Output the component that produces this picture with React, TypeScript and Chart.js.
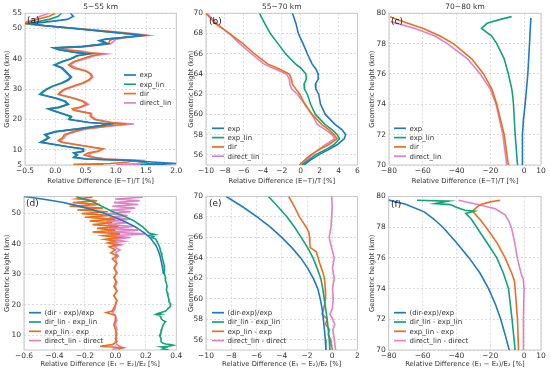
import React, { useEffect, useRef } from "react";
import { Chart, registerables } from "chart.js";

Chart.register(...registerables);

const FONT = "'DejaVu Sans', 'Liberation Sans', sans-serif";
const TEXT = "#333333";
const GRID = "#d2d2d2";
const SPINE = "#c8c8c8";

const BLUE = "#2079c3";
const GREEN = "#12a479";
const ORANGE = "#ea6f1e";
const PINK = "#e082c6";

// ---------------- (a) 5-55 km ----------------
const A_HEIGHTS = [55, 54, 53, 52, 51.6, 51, 50, 49, 48, 47.7, 47, 46.5, 46, 45, 44, 43.6, 43, 42.5, 42, 41.6, 41, 40, 39, 38, 37, 36, 35, 34, 33, 32, 31, 30, 29, 28.3, 28, 27, 26, 25, 24, 23.5, 23, 22, 21, 20, 19, 18.5, 18, 17, 16, 15, 14, 13, 12.5, 12, 11, 10.3, 9.5, 9, 8.3, 7.5, 7, 6.5, 6, 5.5, 5.2, 5];
const A_EXP = [0.25, 0.3, 0.2, -0.2, -0.42, -0.18, 0.32, 0.82, 1.32, 1.44, 1.12, 0.85, 0.75, 0.87, 0.42, -0.02, 0.07, 0.22, 0.37, 0.56, 0.37, 0.27, 0.12, 0.0, 0.12, 0.17, 0.22, 0.27, 0.22, 0.12, -0.03, -0.13, -0.2, -0.24, -0.18, 0.02, 0.17, 0.22, 0.07, -0.1, -0.03, 0.12, 0.27, 0.24, 0.57, 0.92, 0.77, 0.42, 0.02, -0.16, -0.1, -0.18, -0.23, -0.08, 0.22, 0.47, 0.47, 0.32, 0.37, 0.32, 0.52, 1.3, 1.6, 2.0, 1.7, 1.4];
const A_EXP_LIN = [0.1, 0.05, -0.1, -0.35, -0.45, -0.2, 0.3, 0.8, 1.3, 1.42, 1.1, 0.82, 0.72, 0.85, 0.4, -0.03, 0.05, 0.2, 0.35, 0.55, 0.35, 0.25, 0.1, -0.02, 0.1, 0.15, 0.2, 0.25, 0.2, 0.1, -0.05, -0.15, -0.22, -0.26, -0.2, 0.0, 0.15, 0.2, 0.05, -0.12, -0.05, 0.1, 0.25, 0.22, 0.55, 0.9, 0.75, 0.4, 0.0, -0.18, -0.12, -0.2, -0.25, -0.1, 0.2, 0.45, 0.45, 0.3, 0.35, 0.3, 0.5, 1.2, 1.45, 1.55, 1.8, 1.5];
const A_DIR = [0.0, -0.1, -0.3, -0.45, -0.5, -0.25, 0.35, 0.9, 1.38, 1.48, 1.15, 0.95, 0.9, 0.88, 0.45, 0.08, 0.15, 0.4, 0.5, 0.75, 0.6, 0.45, 0.3, 0.22, 0.3, 0.5, 0.58, 0.6, 0.55, 0.45, 0.3, 0.15, 0.08, 0.05, 0.1, 0.3, 0.45, 0.52, 0.4, 0.28, 0.3, 0.58, 0.58, 0.65, 0.9, 1.18, 0.95, 0.5, 0.3, 0.15, 0.12, 0.05, 0.1, 0.25, 0.55, 0.78, 0.7, 0.55, 0.48, 0.62, 0.8, 1.3, 1.2, 0.9, 0.3, 0.8];
const A_DIRECT_LIN = [-0.1, -0.25, -0.35, -0.5, -0.52, -0.22, 0.38, 0.95, 1.45, 1.55, 1.2, 1.0, 0.98, 0.92, 0.5, 0.12, 0.2, 0.45, 0.6, 0.85, 0.65, 0.5, 0.33, 0.25, 0.35, 0.52, 0.6, 0.62, 0.57, 0.48, 0.33, 0.18, 0.1, 0.07, 0.12, 0.32, 0.47, 0.55, 0.43, 0.32, 0.35, 0.6, 0.6, 0.68, 0.95, 1.3, 1.0, 0.55, 0.33, 0.18, 0.15, 0.08, 0.13, 0.28, 0.58, 0.8, 0.72, 0.6, 0.55, 0.65, 0.85, 1.45, 1.4, 1.5, 1.0, 1.5];

// ---------------- (b) 55-70 km ----------------
const B_HEIGHTS = [70, 69, 68, 67, 66, 65, 64.5, 64, 63.5, 63, 62.5, 62, 61, 60, 59, 58.5, 58, 57.6, 57, 56.5, 56, 55.5, 55];
const B_EXP = [-0.87, -0.5, -0.25, 0.25, 0.7, 1.2, 1.6, 1.85, 1.85, 1.55, 1.6, 1.9, 2.1, 2.6, 3.65, 4.35, 4.75, 4.6, 3.85, 2.9, 1.9, 1.05, 0.35];
const B_EXP_LIN = [-4.35, -3.8, -3.2, -2.4, -1.6, -0.55, 0.1, 0.55, 0.6, 0.35, 0.4, 0.7, 1.05, 1.55, 2.6, 3.3, 3.85, 4.1, 3.5, 2.6, 1.55, 0.85, 0.15];
const B_DIR = [-10, -9.05, -7.5, -6.1, -4.9, -3.5, -2.25, -1.2, -0.98, -0.87, -0.5, -0.1, 0.45, 1.2, 2.25, 2.95, 3.5, 3.85, 2.95, 1.9, 1.05, 0.45, -0.15];
const B_DIRECT_LIN = [-9.9, -8.9, -7.55, -6.45, -5.2, -3.9, -2.7, -1.5, -1.2, -1.15, -0.95, -0.35, 0.45, 1.2, 1.75, 2.6, 3.3, 3.6, 2.6, 1.85, 1.2, 0.6, 0];

// ---------------- (c) 70-80 km ----------------
const C_EXP_H = [70, 72, 73, 74, 76, 78, 79.7];
const C_EXP = [-0.8, -1, -0.4, 0.6, 2.2, 3.2, 4.0];
const C_EXP_LIN_H = [70, 72, 74, 74.5, 75, 76, 77, 78, 78.5, 79, 79.34, 79.6, 79.78];
const C_EXP_LIN = [-3.9, -5.3, -6.3, -6.7, -7.3, -9.3, -11.8, -16.2, -19.2, -25.2, -21.9, -14, -7.4];
const C_DIR_H = [70, 72, 74, 74.5, 75, 76, 77, 78, 78.5, 79, 79.45, 79.78];
const C_DIR = [-9.3, -11.8, -16.2, -17.6, -19.1, -24, -31, -41.9, -49.8, -59.7, -71.5, -79.4];
const C_DIRECT_LIN_H = [70, 72, 74, 75, 76, 77, 78, 78.5, 79, 79.45];
const C_DIRECT_LIN = [-10.3, -12.6, -16.6, -20, -26, -33.5, -45.5, -52.8, -64.6, -79];

// ---------------- (d) 5-55 km differences ----------------
const D_BLUE_H = [55.4, 54.5, 53.5, 52.5, 51.5, 50.5, 49.5, 48.5, 47.5, 46.5, 45.5, 44.5, 43.5, 42.5, 41.5, 40.5, 39.5, 38.5, 37.5, 36, 34, 32, 30];
const D_DIR_EXP = [-0.6, -0.47, -0.35, -0.26, -0.18, -0.11, -0.05, 0.0, 0.05, 0.09, 0.13, 0.16, 0.19, 0.215, 0.235, 0.25, 0.265, 0.275, 0.283, 0.293, 0.302, 0.31, 0.316];
const D_GREEN_H = [55.4, 54.5, 53.5, 52.5, 51.5, 50.5, 49.5, 48.5, 47.5, 46.5, 45.5, 44.5, 43.5, 43, 42.7, 42.3, 42, 41.5, 41, 40, 39, 38, 37, 36, 35, 34, 33, 32, 31, 30, 29, 28, 27, 26, 25, 24, 23, 22, 21, 20.5, 20, 19.5, 19, 18.5, 18, 17.5, 17.2, 17, 16.8, 16.5, 16, 15.5, 15, 14.5, 14, 13, 12, 11, 10, 9, 8, 7.5, 7.2, 7, 6.8, 6.5, 6.3, 6, 5.6, 5.25];
const D_DIRLIN_EXPLIN = [-0.26, -0.2, -0.14, -0.1, -0.06, -0.02, 0.03, 0.08, 0.12, 0.15, 0.18, 0.2, 0.22, 0.26, 0.22, 0.25, 0.24, 0.265, 0.27, 0.28, 0.29, 0.295, 0.3, 0.305, 0.31, 0.315, 0.32, 0.32, 0.322, 0.325, 0.33, 0.328, 0.335, 0.34, 0.335, 0.34, 0.345, 0.35, 0.352, 0.36, 0.365, 0.36, 0.35, 0.34, 0.33, 0.3, 0.28, 0.3, 0.27, 0.29, 0.3, 0.3, 0.31, 0.33, 0.32, 0.31, 0.305, 0.3, 0.29, 0.3, 0.3, 0.31, 0.33, 0.36, 0.38, 0.35, 0.3, 0.33, 0.31, 0.35];
const D_OP_H = [55.2, 54.6, 54.0, 53.4, 52.8, 52.2, 51.6, 51.0, 50.4, 49.8, 49.2, 48.6, 48.0, 47.4, 46.8, 46.2, 45.6, 45.0, 44.4, 43.8, 43.2, 42.6, 42.0, 41.4, 40.8, 40.2, 39.6, 39.0, 38.0, 37.0, 36.0, 35.0, 33.5, 32, 30.5, 29, 27.5, 26, 24.5, 23, 21.5, 20, 19, 18, 17.5, 17, 16.5, 15, 13.5, 12, 10.5, 9, 8, 7, 6.5, 6, 5.5];
const D_EXPLIN_EXP = [-0.15, -0.25, -0.12, -0.28, -0.1, -0.3, -0.08, -0.25, -0.05, -0.22, -0.03, -0.2, 0.0, -0.17, -0.02, -0.15, 0.02, -0.12, 0.0, -0.15, 0.03, -0.08, 0.02, -0.07, 0.0, -0.05, 0.01, -0.04, 0.0, -0.03, 0.01, -0.02, 0.01, -0.01, 0.01, -0.01, 0.005, -0.01, 0.01, -0.01, 0.01, 0.0, -0.01, -0.02, -0.06, -0.03, 0.0, 0.0, -0.01, 0.0, 0.01, 0.0, 0.01, -0.02, -0.1, 0.05, 0.02];
const D_DIRECTLIN_DIRECT = [0.18, 0.0, 0.16, -0.01, 0.15, -0.02, 0.13, -0.03, 0.1, -0.05, 0.08, -0.04, 0.1, -0.06, 0.08, -0.05, 0.12, -0.04, 0.15, -0.05, 0.2, -0.03, 0.1, -0.02, 0.06, -0.02, 0.04, -0.01, 0.03, 0.0, 0.02, 0.0, 0.01, -0.005, 0.01, -0.01, 0.01, 0.0, 0.01, -0.01, 0.01, 0.0, 0.0, -0.01, -0.02, -0.01, 0.0, 0.01, 0.0, 0.01, 0.0, 0.01, 0.0, 0.01, 0.03, 0.05, -0.02];

// ---------------- (e) 55-70 km differences ----------------
const E_H = [70, 69, 68, 67, 66, 65, 64, 63, 62, 61, 60, 59, 58, 57, 56, 55];
const E_DIR_EXP = [-8.4, -7.1, -5.95, -4.9, -4.0, -3.2, -2.5, -1.95, -1.5, -1.15, -0.95, -0.8, -0.7, -0.62, -0.55, -0.5];
const E_DIRLIN_EXPLIN = [-5.05, -4.3, -3.58, -2.98, -2.46, -1.95, -1.52, -1.2, -0.91, -0.75, -0.64, -0.52, -0.4, -0.32, -0.24, -0.19];
const E_ORANGE_H = [70, 69, 68, 67, 66.5, 66, 65.5, 65, 64.6, 64, 63.5, 63, 62.5, 62, 61, 60, 59, 58.5, 58, 57.5, 57, 56.5, 56, 55.5, 55];
const E_EXPLIN_EXP = [-3.45, -3.0, -2.6, -2.06, -1.85, -1.8, -1.78, -1.74, -1.26, -1.12, -1.0, -0.86, -0.72, -0.62, -0.55, -0.53, -0.68, -0.8, -0.4, -0.53, -0.22, -0.32, -0.12, -0.06, 0];
const E_PINK_H = [70, 69, 68, 67, 66, 65.5, 65, 64, 63, 62, 61, 60, 59, 58.5, 58, 57.5, 57, 56, 55];
const E_DIRECTLIN_DIRECT = [-0.05, 0, -0.05, -0.1, -0.24, -0.15, -0.05, 0.16, 0.02, 0.16, 0.02, 0.08, 0.0, -0.19, 0.05, 0.2, 0.05, 0.16, 0.27];

// ---------------- (f) 70-80 km differences ----------------
const F_BLUE_H = [70, 71, 72, 73, 74, 75, 76, 77, 78, 78.5, 79, 79.5, 79.8];
const F_DIR_EXP = [-8.8, -11.2, -13.8, -17, -21, -26, -32.5, -40, -48, -53, -59, -70, -81];
const F_GREEN_H = [70, 72, 74, 75, 76, 77, 78, 78.5, 78.9, 79.05, 79.1, 79.3, 79.47, 79.54, 79.7, 79.76];
const F_DIRLIN_EXPLIN = [-5.3, -7.1, -9.2, -12.2, -16.1, -22, -28, -31, -34.5, -29.5, -35, -40, -43.6, -52.5, -44.6, -63.3];
const F_ORANGE_H = [70, 72, 74, 74.5, 75, 76, 77, 78, 78.5, 79.05, 79.39, 79.5, 79.65, 79.76];
const F_EXPLIN_EXP = [-3.3, -3.9, -5.3, -5.7, -7.3, -11.2, -16.1, -22.5, -26, -30.5, -27, -25, -20, -14.2];
const F_PINK_H = [70, 72, 74, 74.6, 75, 76, 77, 77.9, 78.4, 78.8, 79.2, 79.5, 79.76];
const F_DIRECTLIN_DIRECT = [-0.4, -0.4, 0, -0.5, -1.8, -4, -5.5, -7.3, -9, -11.2, -17, -28, -38.8];

// ---------------- ticks / labels ----------------
const TOP_X_TITLE = "Relative Difference (E\u2212T)/T [%]";
const BOT_X_TITLE = "Relative Difference (E\u2081 \u2212 E\u2082)/E\u2082 [%]";
const Y_TITLE = "Geometric height (km)";
const TOP_LABELS = ["exp", "exp_lin", "dir", "direct_lin"];
const D_LABELS = ["(dir - exp)/exp", "dir_lin - exp_lin", "exp_lin - exp", "direct_lin - direct"];
const EF_LABELS = ["(dir-exp)/exp", "dir_lin - exp_lin", "exp_lin - exp", "direct_lin - direct"];

const A_XTICKS = [-0.5, 0, 0.5, 1.0, 1.5, 2.0];
const A_YTICKS = [5, 10, 20, 30, 40, 50, 55];
const B_XTICKS = [-10, -8, -6, -4, -2, 0, 2, 4, 6];
const B_YTICKS = [56, 58, 60, 62, 64, 66, 68, 70];
const C_XTICKS = [-80, -60, -40, -20, 0, 10];
const C_YTICKS = [70, 72, 74, 76, 78, 80];
const D_XTICKS = [-0.6, -0.4, -0.2, 0, 0.2, 0.4];
const D_YTICKS = [10, 20, 30, 40, 50];
const E_XTICKS = [-10, -8, -6, -4, -2, 0, 2];

type Series = { label: string; color: string; heights: number[]; values: number[] };
type PanelCfg = {
  key: string;
  cx: number; cy: number; cw: number; ch: number;
  plot: { l: number; t: number; r: number; b: number };
  xMin: number; xMax: number; xTicks: number[]; xDec: number;
  yMin: number; yMax: number; yTicks: number[];
  xTitle: string; title?: string;
  tag: string; tagPos: [number, number];
  legend: { lx: number; ly: number; dy: number };
  series: Series[];
};

const mk = (labels: string[], hs: number[][], vs: number[][]): Series[] =>
  [BLUE, GREEN, ORANGE, PINK].map((c, i) => ({ label: labels[i], color: c, heights: hs[i], values: vs[i] }));

const PANELS: PanelCfg[] = [
  {
    key: "a", cx: 0, cy: 0, cw: 183, ch: 187,
    plot: { l: 25, t: 13.3, r: 176.3, b: 165 },
    xMin: -0.5, xMax: 2.0, xTicks: A_XTICKS, xDec: 1,
    yMin: 5, yMax: 55, yTicks: A_YTICKS,
    xTitle: TOP_X_TITLE, title: "5\u221255 km", tag: "(a)", tagPos: [27, 21],
    legend: { lx: 124, ly: 75, dy: 9.3 },
    series: mk(TOP_LABELS, [A_HEIGHTS, A_HEIGHTS, A_HEIGHTS, A_HEIGHTS], [A_EXP, A_EXP_LIN, A_DIR, A_DIRECT_LIN]),
  },
  {
    key: "b", cx: 184, cy: 0, cw: 181, ch: 187,
    plot: { l: 206, t: 13.3, r: 357.5, b: 165 },
    xMin: -10, xMax: 6, xTicks: B_XTICKS, xDec: 0,
    yMin: 55, yMax: 70, yTicks: B_YTICKS,
    xTitle: TOP_X_TITLE, title: "55\u221270 km", tag: "(b)", tagPos: [209, 22],
    legend: { lx: 212, ly: 128.3, dy: 9.3 },
    series: mk(TOP_LABELS, [B_HEIGHTS, B_HEIGHTS, B_HEIGHTS, B_HEIGHTS], [B_EXP, B_EXP_LIN, B_DIR, B_DIRECT_LIN]),
  },
  {
    key: "c", cx: 365, cy: 0, cw: 185, ch: 187,
    plot: { l: 389, t: 13.3, r: 541, b: 165 },
    xMin: -80, xMax: 10, xTicks: C_XTICKS, xDec: 0,
    yMin: 70, yMax: 80, yTicks: C_YTICKS,
    xTitle: TOP_X_TITLE, title: "70\u221280 km", tag: "(c)", tagPos: [391, 22],
    legend: { lx: 394, ly: 128.3, dy: 9.3 },
    series: mk(TOP_LABELS, [C_EXP_H, C_EXP_LIN_H, C_DIR_H, C_DIRECT_LIN_H], [C_EXP, C_EXP_LIN, C_DIR, C_DIRECT_LIN]),
  },
  {
    key: "d", cx: 0, cy: 188, cw: 183, ch: 182,
    plot: { l: 24, t: 196.5, r: 176.3, b: 350 },
    xMin: -0.6, xMax: 0.4, xTicks: D_XTICKS, xDec: 1,
    yMin: 5.25, yMax: 55.4, yTicks: D_YTICKS,
    xTitle: BOT_X_TITLE, tag: "(d)", tagPos: [26, 204],
    legend: { lx: 29, ly: 312.7, dy: 9.3 },
    series: mk(D_LABELS, [D_BLUE_H, D_GREEN_H, D_OP_H, D_OP_H], [D_DIR_EXP, D_DIRLIN_EXPLIN, D_EXPLIN_EXP, D_DIRECTLIN_DIRECT]),
  },
  {
    key: "e", cx: 184, cy: 188, cw: 181, ch: 182,
    plot: { l: 206, t: 196.5, r: 357.5, b: 350 },
    xMin: -10, xMax: 2, xTicks: E_XTICKS, xDec: 0,
    yMin: 55, yMax: 70, yTicks: B_YTICKS,
    xTitle: BOT_X_TITLE, tag: "(e)", tagPos: [209, 204],
    legend: { lx: 212, ly: 312.7, dy: 9.3 },
    series: mk(EF_LABELS, [E_H, E_H, E_ORANGE_H, E_PINK_H], [E_DIR_EXP, E_DIRLIN_EXPLIN, E_EXPLIN_EXP, E_DIRECTLIN_DIRECT]),
  },
  {
    key: "f", cx: 365, cy: 188, cw: 185, ch: 182,
    plot: { l: 388.7, t: 196.5, r: 541, b: 350 },
    xMin: -80, xMax: 10, xTicks: C_XTICKS, xDec: 0,
    yMin: 70, yMax: 80, yTicks: C_YTICKS,
    xTitle: BOT_X_TITLE, tag: "(f)", tagPos: [391, 205],
    legend: { lx: 394, ly: 312.7, dy: 9.3 },
    series: mk(EF_LABELS, [F_BLUE_H, F_GREEN_H, F_ORANGE_H, F_PINK_H], [F_DIR_EXP, F_DIRLIN_EXPLIN, F_EXPLIN_EXP, F_DIRECTLIN_DIRECT]),
  },
];

const fmt = (v: number, dec: number) => (v < 0 ? "\u2212" : "") + Math.abs(v).toFixed(dec);

function Panel({ cfg }: { cfg: PanelCfg }) {
  const ref = useRef<HTMLCanvasElement | null>(null);
  useEffect(() => {
    const canvas = ref.current;
    if (!canvas) return;
    const { plot } = cfg;
    const yW = plot.l - cfg.cx;
    const xH = cfg.cy + cfg.ch - plot.b;
    const padTop = plot.t - cfg.cy;
    const padRight = cfg.cx + cfg.cw - plot.r;

    const decor = {
      id: "decor_" + cfg.key,
      beforeDatasetsDraw(chart: any) {
        const { ctx, chartArea: a } = chart;
        ctx.save();
        ctx.strokeStyle = SPINE;
        ctx.lineWidth = 1;
        ctx.setLineDash([]);
        ctx.strokeRect(a.left, a.top, a.right - a.left, a.bottom - a.top);
        ctx.restore();
      },
      afterDraw(chart: any) {
        const { ctx, chartArea: a } = chart;
        ctx.save();
        ctx.setLineDash([]);
        if (cfg.title) {
          ctx.fillStyle = TEXT;
          ctx.font = `7.5px ${FONT}`;
          ctx.textAlign = "center";
          ctx.textBaseline = "middle";
          ctx.fillText(cfg.title, (a.left + a.right) / 2, 6.8 - cfg.cy);
        }
        ctx.fillStyle = "#222";
        ctx.font = `9px ${FONT}`;
        ctx.textAlign = "left";
        ctx.textBaseline = "middle";
        ctx.fillText(cfg.tag, cfg.tagPos[0] - cfg.cx, cfg.tagPos[1] - cfg.cy);
        ctx.font = `7px ${FONT}`;
        cfg.series.forEach((s, i) => {
          const y = cfg.legend.ly + i * cfg.legend.dy - cfg.cy;
          const x = cfg.legend.lx - cfg.cx;
          ctx.strokeStyle = s.color;
          ctx.lineWidth = 1.7;
          ctx.beginPath();
          ctx.moveTo(x, y);
          ctx.lineTo(x + 12, y);
          ctx.stroke();
          ctx.fillStyle = TEXT;
          ctx.fillText(s.label, x + 15.5, y + 0.5);
        });
        ctx.restore();
      },
    };

    const chart = new Chart(canvas, {
      type: "scatter",
      data: {
        datasets: cfg.series.map((s) => ({
          label: s.label,
          data: s.heights.map((h, i) => ({ x: s.values[i], y: h })),
          showLine: true,
          borderColor: s.color,
          backgroundColor: s.color,
          borderWidth: 1.6,
          pointRadius: 0,
          pointHoverRadius: 0,
          tension: 0,
          fill: false,
        })),
      },
      options: {
        responsive: false,
        maintainAspectRatio: false,
        animation: false,
        devicePixelRatio: 1,
        events: [],
        layout: { padding: { left: 0, top: padTop, right: padRight, bottom: 0 } },
        plugins: { legend: { display: false }, tooltip: { enabled: false }, title: { display: false } },
        scales: {
          x: {
            type: "linear",
            position: "bottom",
            min: cfg.xMin,
            max: cfg.xMax,
            afterBuildTicks: (sc: any) => {
              sc.ticks = cfg.xTicks.map((v) => ({ value: v }));
            },
            afterFit: (sc: any) => {
              sc.height = xH;
              sc.paddingLeft = 0;
              sc.paddingRight = 0;
            },
            ticks: {
              autoSkip: false,
              maxRotation: 0,
              minRotation: 0,
              padding: 2,
              color: TEXT,
              font: { family: FONT, size: 7.5 },
              callback: (v: any) => fmt(Number(v), cfg.xDec),
            },
            grid: { color: GRID, lineWidth: 0.8, drawTicks: false },
            border: { display: false, dash: [2, 2] },
            title: {
              display: true,
              text: cfg.xTitle,
              color: TEXT,
              font: { family: FONT, size: 6.8 },
              padding: { top: 0, bottom: 2 },
            },
          },
          y: {
            type: "linear",
            position: "left",
            min: cfg.yMin,
            max: cfg.yMax,
            afterBuildTicks: (sc: any) => {
              sc.ticks = cfg.yTicks.map((v) => ({ value: v }));
            },
            afterFit: (sc: any) => {
              sc.width = yW;
              sc.paddingTop = 0;
              sc.paddingBottom = 0;
            },
            ticks: {
              autoSkip: false,
              padding: 3,
              color: TEXT,
              font: { family: FONT, size: 7.5 },
              callback: (v: any) => fmt(Number(v), 0),
            },
            grid: { color: GRID, lineWidth: 0.8, drawTicks: false },
            border: { display: false, dash: [2, 2] },
            title: {
              display: true,
              text: Y_TITLE,
              color: TEXT,
              font: { family: FONT, size: 6.8 },
              padding: { top: 3, bottom: 0 },
            },
          },
        },
      },
      plugins: [decor],
    } as any);
    return () => chart.destroy();
  }, [cfg]);
  return (
    <canvas
      ref={ref}
      width={cfg.cw}
      height={cfg.ch}
      style={{ position: "absolute", left: cfg.cx, top: cfg.cy, width: cfg.cw, height: cfg.ch }}
    />
  );
}

export default function App() {
  return (
    <div style={{ position: "fixed", left: 0, top: 0, width: 550, height: 374, background: "#ffffff", overflow: "hidden" }}>
      {PANELS.map((p) => (
        <Panel key={p.key} cfg={p} />
      ))}
    </div>
  );
}
